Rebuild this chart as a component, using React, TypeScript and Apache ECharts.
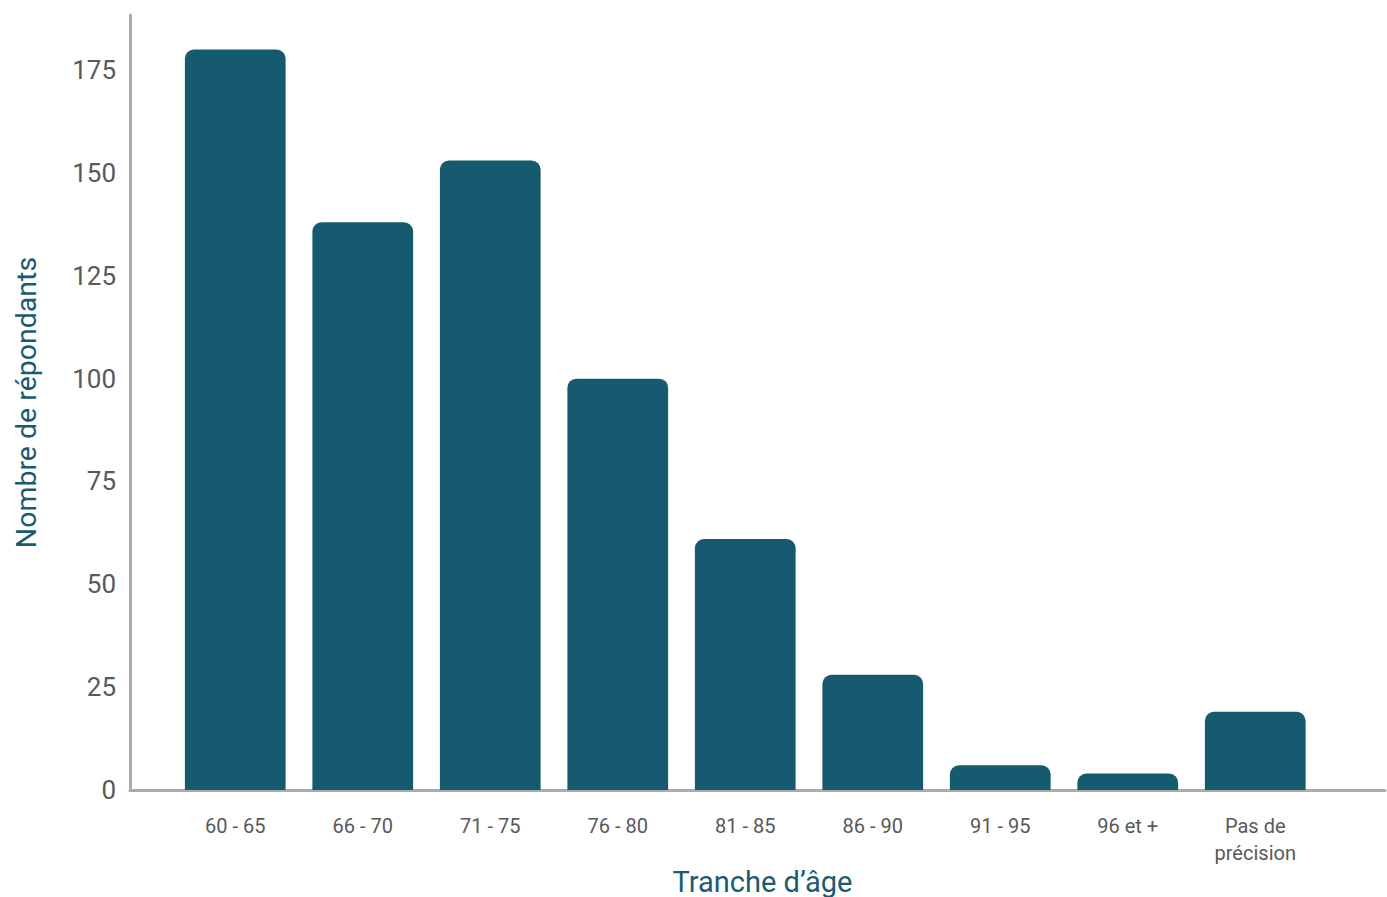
import React, { useEffect, useRef } from "react";
import * as echarts from "echarts";

const categories = ["60 - 65", "66 - 70", "71 - 75", "76 - 80", "81 - 85", "86 - 90", "91 - 95", "96 et +", "Pas de\nprécision"];
const values = [180, 138, 153, 100, 61, 28, 6, 4, 19];
const yTickInterval = 25;
const yMax = 188.4;

export default function App() {
  const ref = useRef<HTMLDivElement>(null);
  useEffect(() => {
    if (!ref.current) return;
    const chart = echarts.init(ref.current, null, { renderer: "svg" });
    const axisGray = "#a9abae";
    const labelGray = "#58595b";
    const titleColor = "#1a5b72";
    const font = "Roboto";
    chart.setOption({
      animation: false,
      textStyle: { fontFamily: font },
      grid: [
        { left: 171.5, right: 68, top: 15, bottom: 107, outerBoundsMode: "none" },
        { left: 130, right: 2, top: 15, bottom: 107, outerBoundsMode: "none" },
      ],
      xAxis: [
        {
          type: "category",
          gridIndex: 0,
          data: categories,
          axisLine: { show: false },
          axisTick: { show: false },
          axisLabel: { color: labelGray, fontSize: 20, margin: 22, lineHeight: 27, fontFamily: font, interval: 0 },
        },
        {
          type: "value",
          gridIndex: 1,
          min: 0,
          max: 1,
          axisLine: { show: true, lineStyle: { color: axisGray, width: 3 } },
          axisTick: { show: false },
          axisLabel: { show: false },
          splitLine: { show: false },
          name: "Tranche d’âge",
          nameLocation: "middle",
          nameGap: 77,
          nameTextStyle: { color: titleColor, fontSize: 29, fontFamily: font, padding: [0, 0, 0, 10] },
        },
      ],
      yAxis: [
        {
          type: "value",
          gridIndex: 0,
          min: 0,
          max: yMax,
          show: false,
        },
        {
          type: "value",
          gridIndex: 1,
          min: 0,
          max: yMax,
          interval: yTickInterval,
          axisLine: { show: true, lineStyle: { color: axisGray, width: 3 } },
          axisTick: { show: false },
          splitLine: { show: false },
          axisLabel: { color: labelGray, fontSize: 26, margin: 14, fontFamily: font, showMaxLabel: false },
          name: "Nombre de répondants",
          nameLocation: "middle",
          nameRotate: 90,
          nameGap: 89,
          nameTextStyle: { color: titleColor, fontSize: 28.5, fontFamily: font },
        },
      ],
      series: [
        {
          type: "bar",
          xAxisIndex: 0,
          yAxisIndex: 0,
          data: values,
          barWidth: "79%",
          itemStyle: { color: "#155a6f", borderRadius: [9, 9, 0, 0] },
        },
      ],
    });
    return () => chart.dispose();
  }, []);
  return <div ref={ref} style={{ position: "absolute", left: 0, top: 0, width: 1387, height: 897 }} />;
}
